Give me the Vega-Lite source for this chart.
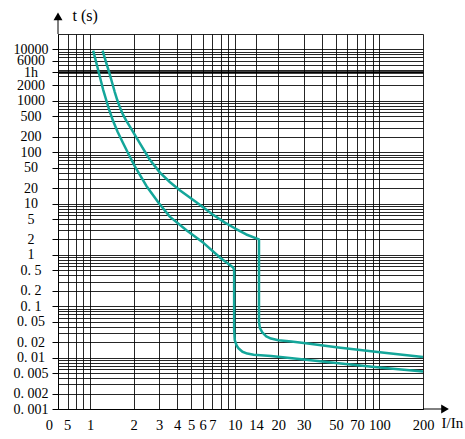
{
  "$schema": "https://vega.github.io/schema/vega-lite/v6.json",
  "width": 365,
  "height": 375,
  "autosize": {"type": "none"},
  "padding": {"left": 58, "top": 34, "right": 42, "bottom": 30},
  "background": "white",
  "config": {"view": {"stroke": null}},
  "encoding": {
    "x": {
      "field": "I", "type": "quantitative",
      "scale": {"type": "log", "domain": [0.6, 200], "nice": false, "zero": false},
      "axis": {
        "values": [0.6, 0.7, 0.8, 0.9, 1, 2, 3, 4, 5, 6, 7, 8, 9, 10, 14, 20, 30, 40, 50, 60, 70, 80, 90, 100, 200],
        "labelExpr": "datum.value == 0.6 ? '0\u00a0\u00a0\u00a05' : (indexof([1,2,3,4,5,6,7,10,14,20,30,50,70,100,200], datum.value) >= 0 ? '' + datum.value : '')",
        "labelFont": "Liberation Serif", "labelFontSize": 14.5, "labelColor": "black",
        "labelPadding": 9, "labelOverlap": false, "labelFlush": false, "labelBound": false,
        "ticks": false,
        "grid": true, "gridColor": "black", "gridOpacity": 0.85, "gridWidth": 1,
        "domainColor": "black", "domainWidth": 1,
        "title": "I/In", "titleX": 383, "titleY": 18, "titleAlign": "left", "titleBaseline": "alphabetic",
        "titleFont": "Liberation Serif", "titleFontSize": 15, "titleFontWeight": "normal", "titleColor": "black"
      }
    },
    "y": {
      "field": "t", "type": "quantitative",
      "scale": {"type": "log", "domain": [0.001, 20000], "nice": false, "zero": false},
      "axis": {
        "values": [0.001, 0.002, 0.003, 0.004, 0.005, 0.006, 0.007, 0.008, 0.009, 0.01, 0.02, 0.03, 0.04, 0.05, 0.06, 0.07, 0.08, 0.09, 0.1, 0.2, 0.3, 0.4, 0.5, 0.6, 0.7, 0.8, 0.9, 1, 2, 3, 4, 5, 6, 7, 8, 9, 10, 20, 30, 40, 50, 60, 70, 80, 90, 100, 200, 300, 400, 500, 600, 700, 800, 900, 1000, 2000, 3000, 3600, 4000, 5000, 6000, 7000, 8000, 9000, 10000, 20000],
        "labelExpr": "datum.value == 3600 ? '1h' : (indexof([10000,6000,2000,1000,500,200,100,50,20,10,5,2,1,0.5,0.2,0.1,0.05,0.02,0.01,0.005,0.002,0.001], datum.value) >= 0 ? replace('' + datum.value, '.', '.\u00a0') : '')",
        "labelFont": "Liberation Serif", "labelFontSize": 14, "labelColor": "black",
        "labelAlign": "center", "labelBaseline": "middle", "labelPadding": 21.5,
        "labelOverlap": false, "labelFlush": false, "labelBound": false,
        "tickSize": 6, "tickColor": "black",
        "tickOpacity": {"condition": {"test": "indexof([10000,6000,3600,2000,1000,500,200,100,50,20,10,5,2,1,0.5,0.2,0.1,0.05,0.02,0.01,0.005,0.002,0.001], datum.value) < 0", "value": 0}, "value": 1},
        "grid": true, "gridColor": "black",
        "gridOpacity": {"condition": {"test": "datum.value == 3600", "value": 1}, "value": 0.85},
        "gridWidth": {"condition": {"test": "datum.value == 3600", "value": 2.5}, "value": 1},
        "domainColor": "black", "domainWidth": 1,
        "title": "t (s)", "titleAngle": 0, "titleX": 14, "titleY": -14, "titleAlign": "left", "titleBaseline": "alphabetic",
        "titleFont": "Liberation Serif", "titleFontSize": 16, "titleFontWeight": "normal", "titleColor": "black"
      }
    }
  },
  "layer": [
    {
      "data": {"values": [
        {"curve": "a", "I": 1.05, "t": 9500},
        {"curve": "a", "I": 1.12, "t": 4700},
        {"curve": "a", "I": 1.23, "t": 1660},
        {"curve": "a", "I": 1.349, "t": 693},
        {"curve": "a", "I": 1.445, "t": 399},
        {"curve": "a", "I": 1.549, "t": 250},
        {"curve": "a", "I": 1.679, "t": 156},
        {"curve": "a", "I": 1.85, "t": 90},
        {"curve": "a", "I": 2.03, "t": 54},
        {"curve": "a", "I": 2.45, "t": 22},
        {"curve": "a", "I": 3.0, "t": 10},
        {"curve": "a", "I": 3.57, "t": 5.5},
        {"curve": "a", "I": 4.66, "t": 3.0},
        {"curve": "a", "I": 6.1, "t": 1.7},
        {"curve": "a", "I": 7.97, "t": 0.87},
        {"curve": "a", "I": 9.75, "t": 0.57},
        {"curve": "a", "I": 9.9, "t": 0.5},
        {"curve": "a", "I": 9.9, "t": 0.035},
        {"curve": "a", "I": 10.0, "t": 0.022},
        {"curve": "a", "I": 10.3, "t": 0.0172},
        {"curve": "a", "I": 10.6, "t": 0.0152},
        {"curve": "a", "I": 11.3, "t": 0.013},
        {"curve": "a", "I": 12.2, "t": 0.012},
        {"curve": "a", "I": 13.5, "t": 0.0114},
        {"curve": "a", "I": 17.8, "t": 0.0108},
        {"curve": "a", "I": 30, "t": 0.0092},
        {"curve": "a", "I": 52, "t": 0.0078},
        {"curve": "a", "I": 100, "t": 0.0064},
        {"curve": "a", "I": 200, "t": 0.0054},
        {"curve": "b", "I": 1.22, "t": 9500},
        {"curve": "b", "I": 1.29, "t": 5600},
        {"curve": "b", "I": 1.358, "t": 3500},
        {"curve": "b", "I": 1.479, "t": 1500},
        {"curve": "b", "I": 1.543, "t": 1026},
        {"curve": "b", "I": 1.614, "t": 721},
        {"curve": "b", "I": 1.692, "t": 531},
        {"curve": "b", "I": 1.778, "t": 411},
        {"curve": "b", "I": 1.875, "t": 322},
        {"curve": "b", "I": 2.2, "t": 152},
        {"curve": "b", "I": 2.58, "t": 72},
        {"curve": "b", "I": 3.04, "t": 40},
        {"curve": "b", "I": 3.57, "t": 26},
        {"curve": "b", "I": 4.19, "t": 18},
        {"curve": "b", "I": 5.0, "t": 12.5},
        {"curve": "b", "I": 5.79, "t": 9.3},
        {"curve": "b", "I": 7.0, "t": 6.2},
        {"curve": "b", "I": 8.5, "t": 4.3},
        {"curve": "b", "I": 10.0, "t": 3.3},
        {"curve": "b", "I": 12.0, "t": 2.5},
        {"curve": "b", "I": 14.7, "t": 2.0},
        {"curve": "b", "I": 14.7, "t": 0.05},
        {"curve": "b", "I": 14.9, "t": 0.038},
        {"curve": "b", "I": 15.5, "t": 0.031},
        {"curve": "b", "I": 16.5, "t": 0.026},
        {"curve": "b", "I": 17.8, "t": 0.0235},
        {"curve": "b", "I": 20, "t": 0.0218},
        {"curve": "b", "I": 24.6, "t": 0.0206},
        {"curve": "b", "I": 31, "t": 0.019},
        {"curve": "b", "I": 52, "t": 0.0158},
        {"curve": "b", "I": 108, "t": 0.0125},
        {"curve": "b", "I": 200, "t": 0.0103}
      ]},
      "mark": {"type": "line", "color": "#14a69a", "strokeWidth": 2.5, "strokeJoin": "round"},
      "encoding": {
        "detail": {"field": "curve", "type": "nominal"},
        "order": {"value": null}
      }
    },
    {
      "data": {"values": [{"I": 0.6, "t": 20000, "t2": 44000}]},
      "mark": {"type": "rule", "color": "black", "strokeWidth": 1},
      "encoding": {"y2": {"field": "t2"}}
    },
    {
      "data": {"values": [{"I": 200, "I2": 284, "t": 0.001}]},
      "mark": {"type": "rule", "color": "black", "strokeWidth": 1},
      "encoding": {"x2": {"field": "I2"}}
    },
    {
      "data": {"values": [
        {"I": 0.6, "t": 44000, "s": "triangle-up"},
        {"I": 284, "t": 0.001, "s": "triangle-right"}
      ]},
      "mark": {"type": "point", "filled": true, "color": "black", "opacity": 1, "size": 80},
      "encoding": {"shape": {"field": "s", "type": "nominal", "scale": null}}
    }
  ]
}
